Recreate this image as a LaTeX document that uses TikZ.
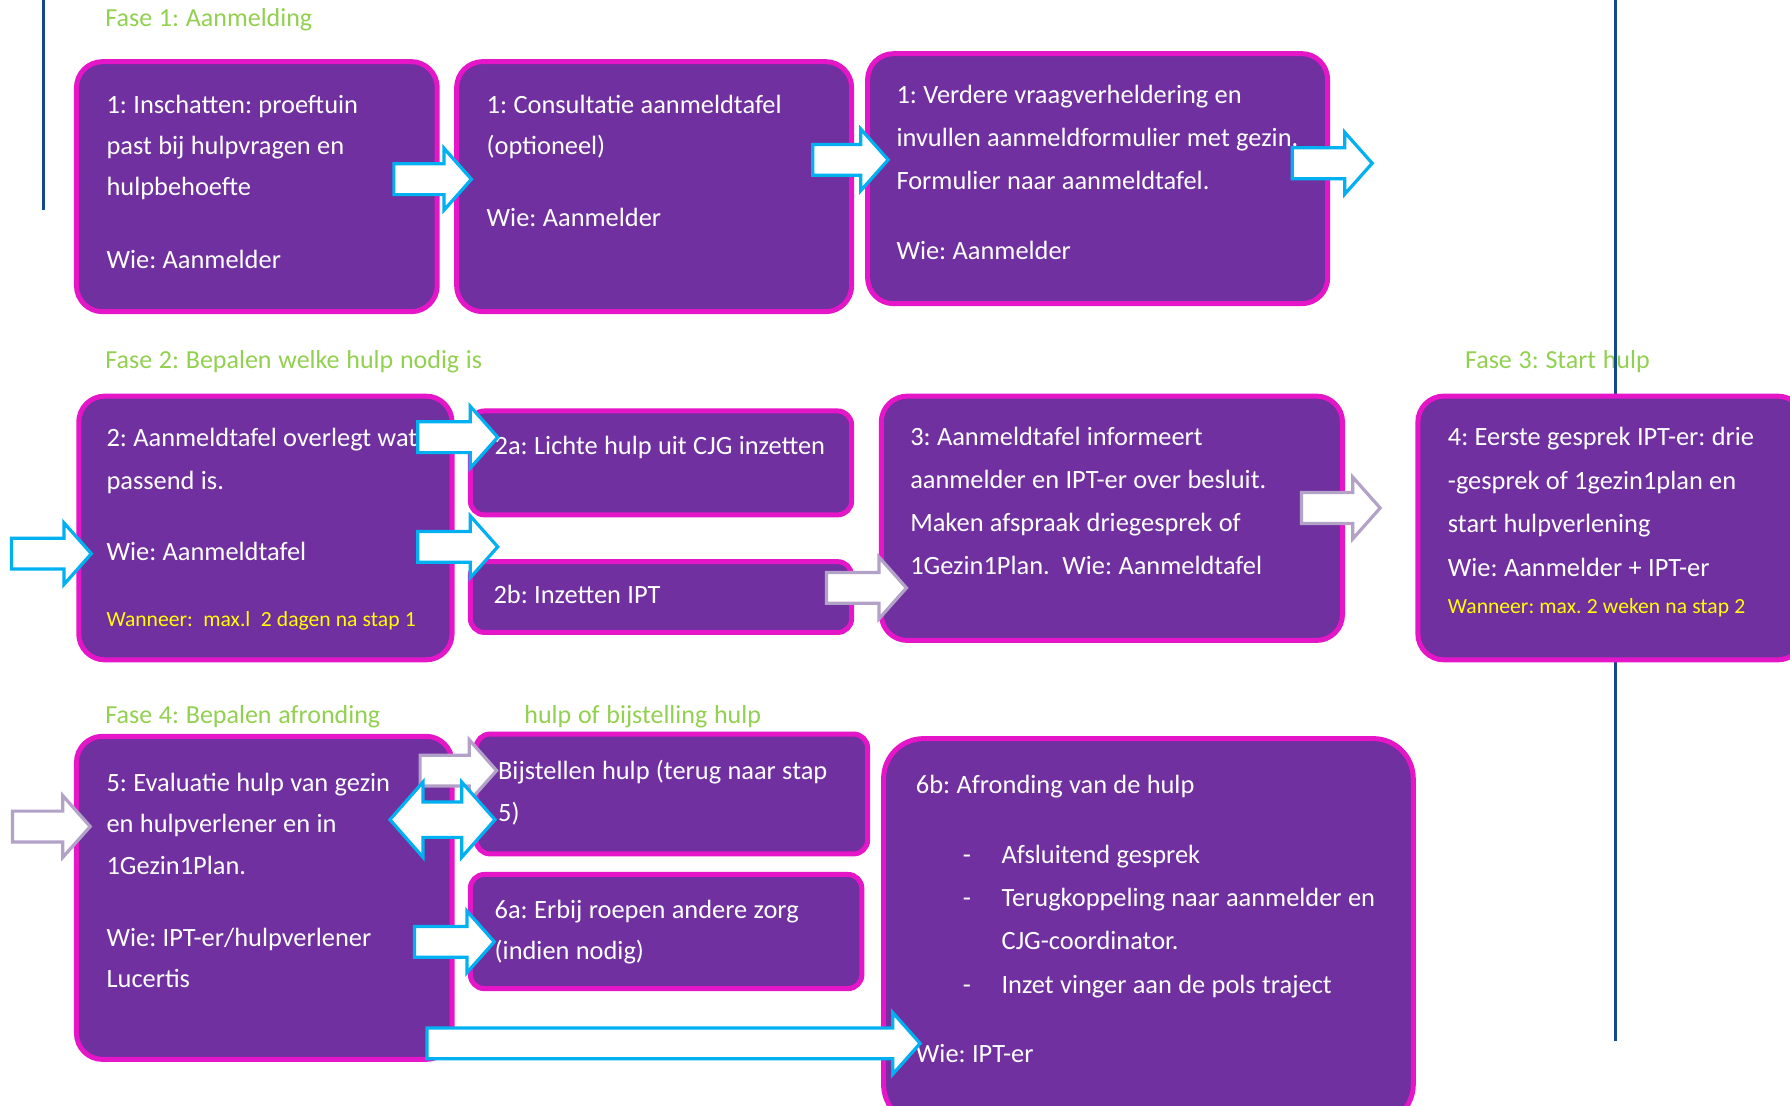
\documentclass[tikz,border=0pt]{standalone}
\usepackage{fontspec}
\setmainfont{Carlito}
\usetikzlibrary{fit}
\frenchspacing
\definecolor{boxfill}{RGB}{112,48,160}
\definecolor{boxline}{RGB}{228,22,200}
\definecolor{arrblue}{RGB}{0,176,240}
\definecolor{arrlav}{RGB}{179,162,199}
\definecolor{phasegreen}{RGB}{146,208,80}
\definecolor{vlinecol}{RGB}{20,74,135}
\definecolor{wyellow}{RGB}{255,255,0}
\newcommand{\blockarrow}[4]{%
  \draw[barrow=#1] (#2,#4-13.5) -- (#3-24,#4-13.5) -- (#3-24,#4-27) -- (#3,#4)
    -- (#3-24,#4+27) -- (#3-24,#4+13.5) -- (#2,#4+13.5) -- cycle;}
\newcommand{\setspc}[1]{\spaceskip=#1\relax}
\newcommand{\boxfont}[1]{\fontsize{13.2}{#1}\selectfont\setspc{0.24em}}
\newcommand{\phasefont}{\fontsize{13}{15}\selectfont\setspc{0.26em}}
\newcommand{\ylw}[1]{{\color{wyellow}\fontsize{10.8}{10}\selectfont\setspc{0.24em}#1}}
\newcommand{\dashitem}{\hspace*{23.4pt}\makebox[19.4pt][l]{-}}
\tikzset{
  box/.style={draw=boxline, fill=boxfill, line width=2.5pt, rounded corners=13pt, inner sep=0pt},
  smallbox/.style={box, rounded corners=7pt},
  bigbox/.style={box, rounded corners=20pt},
  txt/.style={anchor=base west, inner sep=0pt, text=white, align=flush left, text width=300pt,
    font={\boxfont{#1}}},
  txt/.default=21pt,
  phase/.style={anchor=base west, inner sep=0pt, text=phasegreen, font={\phasefont}},
  barrow/.style={line width=1.6pt, fill=white, line join=miter, draw=#1},
  vline/.style={draw=vlinecol, line width=1.6pt},
}
\begin{document}
\begin{tikzpicture}[x=0.5708pt, y=-0.5708pt]
\useasboundingbox (0,0) rectangle (1568,968);
\clip (0,0) rectangle (1568,968);

% phase labels
\node[phase] (f1) at (92,23) {Fase 1: Aanmelding};
\node[phase] (f2) at (92,323) {Fase 2: Bepalen welke hulp nodig is};
\node[phase] (f3) at (1283,323) {Fase 3: Start hulp};
\node[phase] (f4) at (92,634) {Fase 4: Bepalen afronding};
\node[phase] (f5) at (459,634) {hulp of bijstelling hulp};

% vertical lines
\coordinate (l1t) at (38,0);
\coordinate (l1b) at (38,184);
\coordinate (l2t) at (1415,0);
\coordinate (l2b) at (1415,912);
\draw[vline] (l1t) -- (l1b);
\draw[vline] (l2t) -- (l2b);

% boxes
\node[box, fit={(67,54) (383,273)}] (a1) {};
\node[box, fit={(400,54) (746,273)}] (a2) {};
\node[box, fit={(760,47) (1163,266)}] (a3) {};
\node[box, fit={(69,347) (396,578)}] (b2) {};
\node[smallbox, fit={(412,360) (746,451)}] (b2a) {};
\node[smallbox, fit={(412,492) (746,554)}] (b2b) {};
\node[box, fit={(772,347) (1176,561)}] (b3) {};
\node[box, fit={(1242,347) (1580,578)}] (b4) {};
\node[box, fit={(67,645) (396,928)}] (c5) {};
\node[smallbox, fit={(417,643) (760,748)}] (c5a) {};
\node[smallbox, fit={(412,766) (755,866)}] (c6a) {};
\node[bigbox, fit={(774,647) (1238,985)}] (c6b) {};

% texts
\node[txt=20.5pt] (ta1) at (93,99) {1: Inschatten: proeftuin\\ past bij hulpvragen en\\ hulpbehoefte\\[16pt] Wie: Aanmelder};
\node[txt=20.5pt] (ta2) at (426,99) {1: Consultatie aanmeldtafel\\ (optioneel)\\[15.5pt] Wie: Aanmelder};
\node[txt=21.4pt] (ta3) at (785,91) {1: Verdere vraagverheldering en\\ invullen aanmeldformulier met gezin.\\ Formulier naar aanmeldtafel.\\[13.4pt] Wie: Aanmelder};
\node[txt=21.7pt] (tb2) at (93,391) {2: Aanmeldtafel overlegt wat\\ passend is.\\[13.7pt] Wie: Aanmeldtafel\\[11.4pt] \ylw{Wanneer:\ \ max.l\ \ 2 dagen na stap 1}};
\node[txt] (tb2a) at (433,398) {2a: Lichte hulp uit CJG inzetten};
\node[txt] (tb2b) at (432,529) {2b: Inzetten IPT};
\node[txt=21.5pt] (tb3) at (797,390) {3: Aanmeldtafel informeert\\ aanmelder en IPT-er over besluit.\\ Maken afspraak driegesprek of\\ 1Gezin1Plan.\ \ Wie: Aanmeldtafel};
\node[txt=21.9pt] (tb4) at (1268,390) {4: Eerste gesprek IPT-er: drie\\ -gesprek of 1gezin1plan en\\ start hulpverlening\\ Wie: Aanmelder + IPT-er\\[-3.6pt] \ylw{Wanneer: max. 2 weken na stap 2}};
\node[txt=20.8pt] (tc5) at (93,693) {5: Evaluatie hulp van gezin\\ en hulpverlener en in\\ 1Gezin1Plan.\\[15.2pt] Wie: IPT-er/hulpverlener\\ Lucertis};
\node[txt=21.1pt] (tc5a) at (436,683) {Bijstellen hulp (terug naar stap\\ 5)};
\node[txt=20.5pt] (tc6a) at (433,805) {6a: Erbij roepen andere zorg\\ (indien nodig)};
\node[txt=21.7pt] (tc6b) at (802,695) {6b: Afronding van de hulp\\[13.1pt]
 \dashitem Afsluitend gesprek\\
 \dashitem Terugkoppeling naar aanmelder en\\
 \hspace*{42.8pt}CJG-coordinator.\\
 \dashitem Inzet vinger aan de pols traject\\[13.1pt]
 Wie: IPT-er};

% block arrows
\blockarrow{arrblue}{345}{413}{157}
\blockarrow{arrblue}{712}{778}{140}
\blockarrow{arrblue}{1132}{1202}{143}
\blockarrow{arrblue}{10}{80}{485}
\blockarrow{arrblue}{366}{436}{383}
\blockarrow{arrblue}{366}{436}{479}
\blockarrow{arrlav}{724}{794}{515}
\blockarrow{arrlav}{1140}{1209}{445}
\blockarrow{arrlav}{11}{79}{724}
\blockarrow{arrlav}{368}{435}{675}
\blockarrow{arrblue}{363}{433}{825}
\blockarrow{arrblue}{374}{806}{914}
% double arrow
\draw[barrow=arrblue] (341.6,718) -- (370.6,685) -- (370.6,702.5) -- (404.4,702.5)
  -- (404.4,685) -- (433.6,718) -- (404.4,751) -- (404.4,733.5) -- (370.6,733.5)
  -- (370.6,751) -- cycle;
\end{tikzpicture}
\end{document}
